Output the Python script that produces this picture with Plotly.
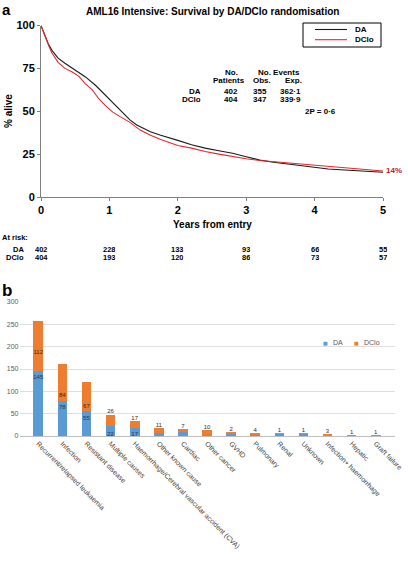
import plotly.graph_objects as go

W, H = 408, 561

# ---------------- data: panel a (Kaplan-Meier survival, % alive) ----------------
t_da = [0, 0.03, 0.07, 0.11, 0.16, 0.25, 0.35, 0.5, 0.65, 0.8, 0.9, 1.0, 1.1, 1.2, 1.3, 1.4,
        1.5, 1.6, 1.75, 1.9, 2.0, 2.2, 2.4, 2.6, 2.8, 3.0, 3.2, 3.4, 3.6, 3.8, 4.0, 4.2, 4.5, 4.8, 5.0]
s_da = [100, 97, 93, 89, 85.5, 81, 78, 74, 70, 65, 61, 57.5, 53, 49, 45, 42,
        40, 38, 36, 34, 33, 30.5, 28.5, 27, 25.5, 23.5, 21.5, 20.3, 19.3, 18.2, 17.2, 16.3, 15.6, 14.9, 14.4]

t_dclo = [0, 0.03, 0.07, 0.11, 0.16, 0.25, 0.35, 0.45, 0.55, 0.65, 0.75, 0.85, 0.95, 1.05, 1.15, 1.3,
          1.45, 1.6, 1.75, 1.9, 2.0, 2.2, 2.4, 2.6, 2.8, 3.0, 3.2, 3.4, 3.6, 3.8, 4.0, 4.2, 4.5, 4.8, 5.0]
s_dclo = [100, 96.5, 92, 88.5, 84, 78.5, 75, 73, 70.5, 66, 62.5, 57, 53, 49.5, 47, 43.5,
          39, 36, 33.5, 31.5, 30, 28.5, 26.5, 25, 23.5, 22.3, 21.3, 20.6, 20, 19.3, 18.7, 17.9, 17, 15.9, 15.2]

years = [0, 1, 2, 3, 4, 5]
risk_da = [402, 228, 133, 93, 66, 55]
risk_dclo = [404, 193, 120, 86, 73, 57]

# ---------------- data: panel b (causes of death) ----------------
causes = ["Recurrent/relapsed leukaemia", "Infection", "Resistant disease", "Multiple causes",
          "Haemorrhage/Cerebral vascular accident (CVA)", "Other known cause", "Cardiac",
          "Other cancer", "GVHD", "Pulmonary", "Renal", "Unknown", "Infection+ haemorrhage",
          "Hepatic", "Graft failure"]
da_deaths = [145, 78, 55, 22, 17, 7, 9, 3, 6, 3, 5, 5, 2, 0, 0]
dclo_deaths = [112, 84, 67, 26, 17, 11, 7, 10, 2, 4, 1, 1, 3, 1, 1]


def py(px):
    return 1 - px / H


def pxx(px):
    return px / W


FONT = "Liberation Sans"
BOLD = dict(family=FONT, weight="bold", color="black")

fig = go.Figure()

# survival curves
fig.add_trace(go.Scatter(x=t_da, y=s_da, mode="lines", line=dict(color="#1a1a1a", width=1.1),
                         xaxis="x", yaxis="y", showlegend=False, cliponaxis=False, hoverinfo="skip"))
fig.add_trace(go.Scatter(x=t_dclo, y=s_dclo, mode="lines", line=dict(color="#e8262a", width=1.1),
                         xaxis="x", yaxis="y", showlegend=False, cliponaxis=False, hoverinfo="skip"))

# stacked bars
BLUE = "#5b9bd5"
ORANGE = "#ed7d31"
fig.add_trace(go.Bar(x=causes, y=da_deaths, marker=dict(color=BLUE, line=dict(width=0)),
                     xaxis="x2", yaxis="y2", showlegend=False, hoverinfo="skip"))
fig.add_trace(go.Bar(x=causes, y=dclo_deaths, marker=dict(color=ORANGE, line=dict(width=0)),
                     xaxis="x2", yaxis="y2", showlegend=False, hoverinfo="skip"))

# bar value labels (positions derived from the data values)
da_lab_y = [d - 15 if d >= 50 else (4 if d >= 10 else -12) for d in da_deaths]
da_lab_c = ["#1f3350" if d >= 10 else "#404040" for d in da_deaths]
dclo_lab_y = []
for d, c in zip(da_deaths, dclo_deaths):
    if c > 100:
        dclo_lab_y.append(d + c * 0.38)
    elif c >= 50:
        dclo_lab_y.append(d + 12)
    else:
        dclo_lab_y.append(d + c + 6)
fig.add_trace(go.Scatter(x=causes, y=da_lab_y, mode="text", text=[str(v) for v in da_deaths],
                         textfont=dict(family=FONT, size=6, color=da_lab_c),
                         xaxis="x2", yaxis="y2", showlegend=False, cliponaxis=False, hoverinfo="skip"))
fig.add_trace(go.Scatter(x=causes, y=dclo_lab_y, mode="text", text=[str(v) for v in dclo_deaths],
                         textfont=dict(family=FONT, size=6, color="#3a2a1a"),
                         xaxis="x2", yaxis="y2", showlegend=False, cliponaxis=False, hoverinfo="skip"))

ann = []


def note(text, x, y, font, xanchor="center", yanchor="middle", xref="paper", yref="paper", **kw):
    ann.append(dict(text=text, x=x, y=y, xref=xref, yref=yref, xanchor=xanchor, yanchor=yanchor,
                    showarrow=False, font=font, **kw))


# panel letters
note("a", 0, py(-1), dict(family=FONT, size=15, weight="bold", color="black"), xanchor="left", yanchor="top")
note("b", 0, py(279), dict(family=FONT, size=17, weight="bold", color="black"), xanchor="left", yanchor="top")
# title
note("AML16 Intensive: Survival by DA/DClo randomisation", pxx(212), py(11), dict(BOLD, size=10))
# axis titles
note("% alive", pxx(8), py(111), dict(BOLD, size=10), textangle=-90)
note("Years from entry", pxx(212), py(224), dict(BOLD, size=10))
# legend box (panel a)
note("DA", pxx(353), py(29.5), dict(BOLD, size=8), xanchor="left")
note("DClo", pxx(353), py(39.7), dict(BOLD, size=8), xanchor="left")
# statistics table
tab = [
    ("No.", 231, 72, "center"), ("Patients", 229, 80, "center"),
    ("No. Events", 279, 72, "center"), ("Obs.", 262, 80, "center"), ("Exp.", 293, 80, "center"),
    ("DA", 202, 90.7, "right"), ("402", 231, 90.7, "center"), ("355", 260, 90.7, "center"),
    ("362·1", 290, 90.7, "center"),
    ("DClo", 202, 99, "right"), ("404", 231, 99, "center"), ("347", 260, 99, "center"),
    ("339·9", 290, 99, "center"),
    ("2P = 0·6", 320, 111, "center"),
]
for txt, x, y, anc in tab:
    note(txt, pxx(x), py(y), dict(BOLD, size=8), xanchor=anc, height=8, borderpad=0)
# end label
note("14%", 5, s_dclo[-1], dict(family=FONT, size=8, weight="bold", color="#c0141c"),
     xanchor="left", xref="x", yref="y", xshift=1)
# at risk
note("At risk:", 0, py(237), dict(BOLD, size=7.5), xanchor="left")
note("DA", pxx(25), py(249), dict(BOLD, size=7.5), xanchor="right", height=8, borderpad=0)
note("DClo", pxx(25), py(257), dict(BOLD, size=7.5), xanchor="right", height=8, borderpad=0)
for yr, a, b in zip(years, risk_da, risk_dclo):
    note(str(a), yr, py(249), dict(BOLD, size=7.5), xref="x", height=8, borderpad=0)
    note(str(b), yr, py(257), dict(BOLD, size=7.5), xref="x", height=8, borderpad=0)
# legend panel b
note("■", pxx(325), py(342.7), dict(family="DejaVu Sans", size=5, color=BLUE))
note("DA", pxx(331), py(342.7), dict(family=FONT, size=7, color="#595959"), xanchor="left")
note("■", pxx(356), py(342.7), dict(family="DejaVu Sans", size=5, color=ORANGE))
note("DClo", pxx(362), py(342.7), dict(family=FONT, size=7, color="#595959"), xanchor="left")

shapes = [
    dict(type="rect", xref="paper", yref="paper", x0=pxx(303), x1=pxx(381), y0=py(47), y1=py(23),
         line=dict(color="black", width=1)),
    dict(type="line", xref="paper", yref="paper", x0=pxx(315), x1=pxx(347), y0=py(29.5), y1=py(29.5),
         line=dict(color="#1a1a1a", width=1.1)),
    dict(type="line", xref="paper", yref="paper", x0=pxx(315), x1=pxx(347), y0=py(39.7), y1=py(39.7),
         line=dict(color="#e8262a", width=1.1)),
]

fig.update_layout(
    width=W, height=H, margin=dict(l=0, r=0, t=0, b=0, autoexpand=False),
    paper_bgcolor="white", plot_bgcolor="white",
    barmode="stack", bargap=0.6,
    annotations=ann, shapes=shapes,
    xaxis=dict(domain=[pxx(41), pxx(383)], range=[0, 5], tickvals=years, anchor="y", automargin=False,
               showline=True, linecolor="#808080", linewidth=1, ticks="outside", ticklen=3,
               tickcolor="#808080", showgrid=False, zeroline=False, tickfont=dict(BOLD, size=11)),
    yaxis=dict(domain=[py(197), py(25.5)], range=[0, 100], tickvals=[0, 25, 50, 75, 100], anchor="x",
               automargin=False,
               showline=True, linecolor="#808080", linewidth=1, ticks="outside", ticklen=3,
               tickcolor="#808080", showgrid=False, zeroline=False, tickfont=dict(BOLD, size=11)),
    xaxis2=dict(domain=[pxx(19.5), pxx(394.5)], anchor="y2", type="category", tickangle=45,
                automargin=False,
                showline=True, linecolor="#bfbfbf", linewidth=1, ticks="", showgrid=False,
                tickfont=dict(family=FONT, size=7, color="#404040")),
    yaxis2=dict(domain=[py(436), py(302)], range=[0, 300], dtick=50, anchor="x2", automargin=False,
                showgrid=True, gridcolor="#dedede", gridwidth=1, zeroline=False, showline=False,
                tickfont=dict(family=FONT, size=7, color="#595959")),
)

fig.write_html("out.html", config={"displayModeBar": False},
               post_script="document.body.style.margin='0px';document.body.style.overflow='hidden';")
